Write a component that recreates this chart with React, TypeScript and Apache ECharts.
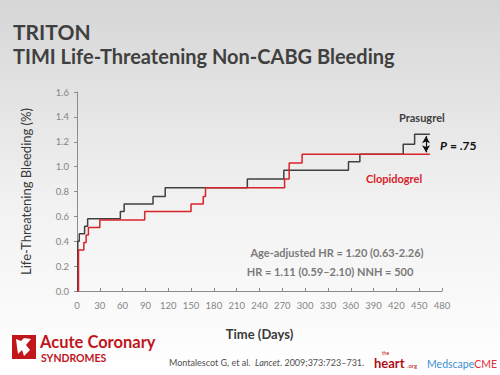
import React, { useEffect, useRef } from "react";
import * as echarts from "echarts";

const xTicks = [0, 30, 60, 90, 120, 150, 180, 210, 240, 270, 300, 330, 360, 390, 420, 450, 480];
const yTicks = [0, 0.2, 0.4, 0.6, 0.8, 1.0, 1.2, 1.4, 1.6];

// Kaplan-Meier steps: [day, cumulative %]
const prasugrel: [number, number][] = [
  [0, 0], [1, 0], [1, 0.40], [3, 0.46], [10, 0.52], [14, 0.58], [57, 0.64], [62, 0.70],
  [100, 0.76], [116, 0.83], [224, 0.90], [272, 0.97], [357, 1.04], [372, 1.10],
  [429, 1.18], [444, 1.26], [464, 1.26],
];
const clopidogrel: [number, number][] = [
  [0, 0], [2, 0], [2, 0.33], [9, 0.39], [12, 0.45], [15, 0.51], [30, 0.57], [89, 0.64],
  [150, 0.70], [166, 0.76], [169, 0.83], [273, 0.90], [279, 1.03], [296, 1.10], [464, 1.10],
];

const title = "TRITON";
const subtitle = "TIMI Life-Threatening Non-CABG Bleeding";
const hrLines = ["Age-adjusted HR = 1.20 (0.63-2.26)", "HR = 1.11 (0.59–2.10) NNH = 500"];

const FONT = "Lato, 'Open Sans', sans-serif";

export default function App() {
  const ref = useRef<HTMLDivElement>(null);
  useEffect(() => {
    if (!ref.current) return;
    const chart = echarts.init(ref.current, null, { renderer: "svg" });
    chart.setOption({
      animation: false,
      backgroundColor: {
        type: "linear", x: 0, y: 0, x2: 0, y2: 1,
        colorStops: [
          { offset: 0, color: "#d6d6d6" },
          { offset: 0.55, color: "#f2f2f2" },
          { offset: 1, color: "#ffffff" },
        ],
      },
      textStyle: { fontFamily: FONT },
      grid: { left: 77, right: 58, top: 92, bottom: 84 },
      xAxis: {
        type: "value", min: xTicks[0], max: xTicks[xTicks.length - 1], interval: 30,
        name: "Time (Days)", nameLocation: "middle", nameGap: 36,
        nameTextStyle: { fontSize: 13, fontWeight: "bold", color: "#3a3a3a", fontFamily: FONT },
        axisLine: { show: true, lineStyle: { color: "#8c8c8c", width: 1 } },
        axisTick: { show: true, inside: true, length: 3, lineStyle: { color: "#8c8c8c" } },
        axisLabel: { fontSize: 9.5, color: "#858585", margin: 9, fontFamily: FONT },
        splitLine: { show: false },
      },
      yAxis: {
        type: "value", min: yTicks[0], max: yTicks[yTicks.length - 1], interval: 0.2, offset: 3,
        name: "Life-Threatening Bleeding (%)", nameLocation: "middle", nameGap: 42,
        nameTextStyle: { fontSize: 13, color: "#3a3a3a", fontFamily: FONT },
        axisLine: { show: true, lineStyle: { color: "#8c8c8c", width: 1 } },
        axisTick: { show: true, length: 3, lineStyle: { color: "#8c8c8c" } },
        axisLabel: { fontSize: 9.5, color: "#858585", margin: 5, fontFamily: FONT, formatter: (v: number) => v.toFixed(1) },
        splitLine: { show: false },
      },
      series: [
        {
          name: "Prasugrel", type: "line", step: "end", data: prasugrel, showSymbol: false,
          lineStyle: { color: "#404040", width: 1.5 },
          markLine: {
            silent: true, symbol: ["arrow", "arrow"], symbolSize: [6, 7],
            lineStyle: { color: "#111", width: 1.2, type: "solid" },
            label: { show: false },
            data: [[{ coord: [459, 1.115] }, { coord: [459, 1.245] }]],
          },
        },
        {
          name: "Clopidogrel", type: "line", step: "end", data: clopidogrel, showSymbol: false,
          lineStyle: { color: "#d8232a", width: 1.5 },
        },
      ],
      graphic: [
        { type: "text", left: 13, top: 21, style: { text: title, font: `bold 21px ${FONT}`, fill: "#404040" } },
        { type: "text", left: 13, top: 46, style: { text: subtitle, font: `bold 20px ${FONT}`, fill: "#404040" } },
        { type: "text", x: 399, y: 117, style: { text: "Prasugrel", font: `bold 11px ${FONT}`, fill: "#404040", align: "left", verticalAlign: "middle" } },
        { type: "text", x: 394, y: 178, style: { text: "Clopidogrel", font: `bold 11px ${FONT}`, fill: "#d8232a", align: "center", verticalAlign: "middle" } },
        {
          type: "text", x: 440, y: 145,
          style: {
            text: "{i|P} = .75", verticalAlign: "middle",
            rich: {
              i: { font: `italic bold 12px ${FONT}`, fill: "#111" },
            },
            font: `bold 12px ${FONT}`, fill: "#111",
          },
        },
        { type: "text", x: 337, y: 252, style: { text: hrLines[0], font: `bold 11px ${FONT}`, fill: "#7a7a7a", align: "center", verticalAlign: "middle" } },
        { type: "text", x: 330, y: 271, style: { text: hrLines[1], font: `bold 11px ${FONT}`, fill: "#7a7a7a", align: "center", verticalAlign: "middle" } },
        // Acute Coronary Syndromes logo
        { type: "rect", shape: { x: 12, y: 335, width: 24, height: 24 }, style: { fill: "#c0161c" } },
        { type: "polygon", shape: { points: [[16, 339], [21, 341], [24, 338], [31, 339], [26, 345], [30, 350], [24, 356], [22, 350], [18, 354], [17, 347]] }, style: { fill: "#ffffff" } },
        { type: "text", x: 40, y: 342, style: { text: "Acute Coronary", font: `bold 16.5px ${FONT}`, lineHeight: 13, fill: "#c0161c", verticalAlign: "middle" } },
        { type: "text", x: 41, y: 357.5, style: { text: "SYNDROMES", font: `bold 10.5px ${FONT}`, lineHeight: 8, fill: "#c0161c", verticalAlign: "middle" } },
        // citation
        {
          type: "text", x: 169, y: 362,
          style: {
            text: "Montalescot G, et al.  {i|Lancet}. 2009;373:723–731.", verticalAlign: "middle",
            font: `9px ${FONT}`, fill: "#505050",
            rich: { i: { font: `italic 9px ${FONT}`, fill: "#505050" } },
          },
        },
        // theheart.org logo
        { type: "text", x: 382, y: 353, style: { text: "the", font: `5px ${FONT}`, lineHeight: 5, fill: "#b01018", verticalAlign: "middle" } },
        { type: "text", x: 374, y: 363, style: { text: "heart", font: `bold 13px ${FONT}`, lineHeight: 11, fill: "#b01018", verticalAlign: "middle" } },
        { type: "text", x: 407, y: 365, style: { text: ".org", font: `6px ${FONT}`, lineHeight: 6, fill: "#b01018", verticalAlign: "middle" } },
        {
          type: "text", x: 427, y: 364,
          style: {
            text: "{b|Medscape}{r|CME}", verticalAlign: "middle",
            rich: {
              b: { font: `10.5px ${FONT}`, fill: "#3a8fd1" },
              r: { font: `10.5px ${FONT}`, fill: "#e0303a" },
            },
          },
        },
      ],
    });
    return () => chart.dispose();
  }, []);
  return <div ref={ref} style={{ position: "fixed", left: 0, top: 0, width: 500, height: 375 }} />;
}
